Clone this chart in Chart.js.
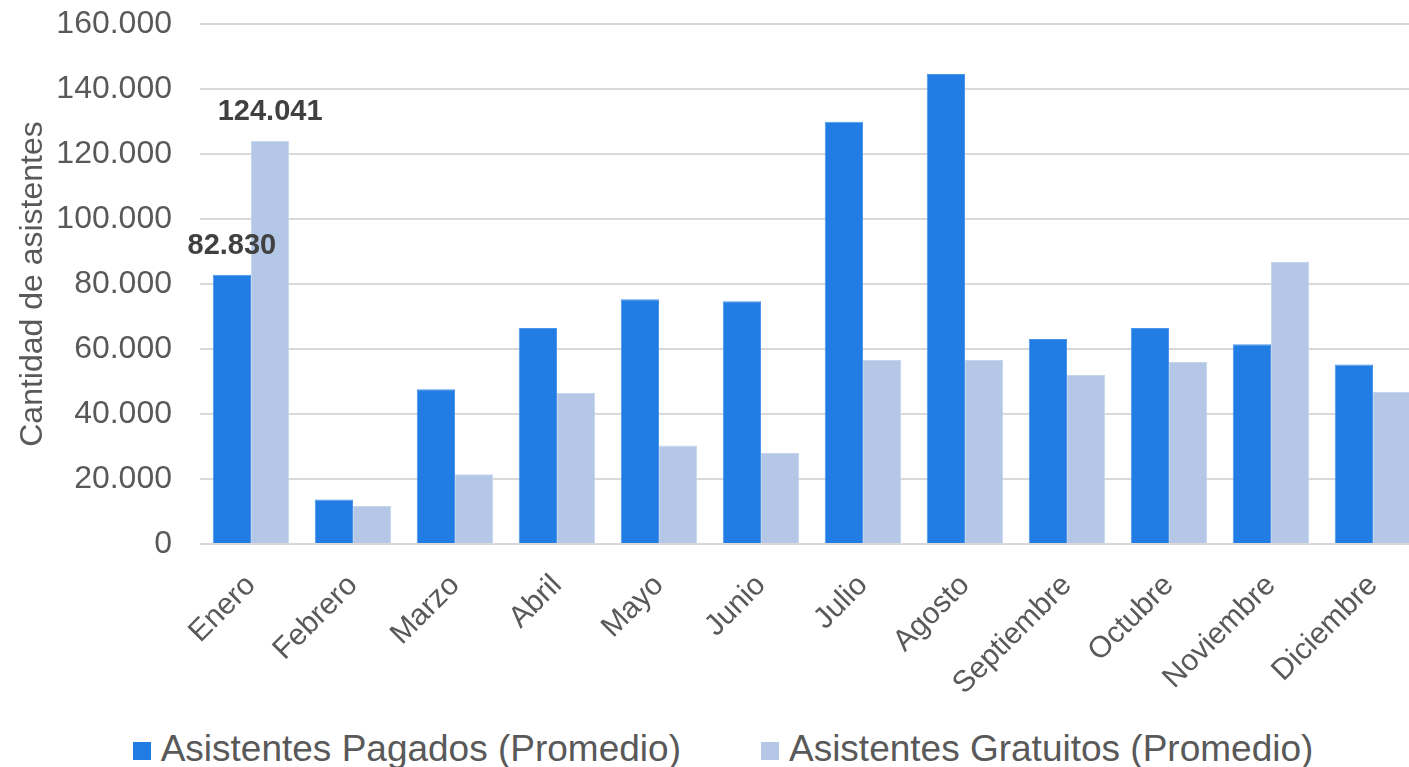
<!DOCTYPE html>
<html lang="es">
<head>
<meta charset="utf-8">
<title>Asistentes por mes</title>
<script src="https://cdn.jsdelivr.net/npm/chart.js@4.4.1/dist/chart.umd.min.js"></script>
<style>
  html, body { margin: 0; padding: 0; background: #fff; overflow: hidden; }
  canvas { display: block; }
  #leyenda {
    width: 1440px;
    margin-top: 26px;
    padding-left: 6px;
    box-sizing: border-box;
    display: flex;
    justify-content: center;
    gap: 80px;
    font: 37px/37px 'Liberation Sans', Arial, sans-serif;
    color: #595959;
    white-space: nowrap;
  }
  #leyenda .item { display: flex; align-items: center; }
  #leyenda .caja { width: 18px; height: 18px; margin-right: 10px; position: relative; top: 2px; }
</style>
</head>
<body>
<canvas id="asistentes" width="1440" height="704"></canvas>
<div id="leyenda"></div>
<script>
const meses = ['Enero', 'Febrero', 'Marzo', 'Abril', 'Mayo', 'Junio', 'Julio',
  'Agosto', 'Septiembre', 'Octubre', 'Noviembre', 'Diciembre'];
const pagados = [82830, 13700, 47600, 66500, 75300, 74700, 129900, 144600, 63100, 66500, 61500, 55200];
const gratuitos = [124041, 11700, 21500, 46500, 30300, 28000, 56600, 56600, 52000, 56000, 86800, 46800];
// which bars get a value written on top: [dataset, month]
const etiquetas = [[0, 0], [1, 0]];

const FONT = "'Liberation Sans', Arial, sans-serif";
const GRIS = '#595959';

function miles(v) {
  return String(v).replace(/\B(?=(\d{3})+(?!\d))/g, '.');
}

// writes the value above the selected bars
const valoresBarras = {
  id: 'valoresBarras',
  afterDatasetsDraw(chart) {
    const ctx = chart.ctx;
    ctx.save();
    ctx.font = 'bold 29px ' + FONT;
    ctx.fillStyle = '#404040';
    ctx.textAlign = 'center';
    ctx.textBaseline = 'middle';
    etiquetas.forEach(([ds, i]) => {
      const bar = chart.getDatasetMeta(ds).data[i];
      const valor = chart.data.datasets[ds].data[i];
      ctx.fillText(miles(valor), bar.x, bar.y - 29);
    });
    ctx.restore();
  }
};

// legend as html under the canvas, so the items can be spaced freely
const leyendaHtml = {
  id: 'leyendaHtml',
  afterUpdate(chart) {
    const cont = document.getElementById('leyenda');
    cont.innerHTML = '';
    chart.data.datasets.forEach(ds => {
      const item = document.createElement('div');
      item.className = 'item';
      const caja = document.createElement('span');
      caja.className = 'caja';
      caja.style.background = ds.backgroundColor;
      const txt = document.createElement('span');
      txt.textContent = ds.label;
      item.appendChild(caja);
      item.appendChild(txt);
      cont.appendChild(item);
    });
  }
};

new Chart(document.getElementById('asistentes'), {
  type: 'bar',
  data: {
    labels: meses,
    datasets: [{
      label: 'Asistentes Pagados (Promedio)',
      data: pagados,
      backgroundColor: '#217DE3',
      borderColor: '#4A95EB',
      borderWidth: 1
    }, {
      label: 'Asistentes Gratuitos (Promedio)',
      data: gratuitos,
      backgroundColor: '#B4C7E7',
      borderColor: '#C6D5EE',
      borderWidth: 1
    }]
  },
  options: {
    responsive: false,
    animation: false,
    categoryPercentage: 0.75,
    barPercentage: 1,
    layout: { padding: { top: 24, right: 16, left: 0, bottom: 0 } },
    plugins: {
      tooltip: { enabled: false },
      legend: { display: false }
    },
    scales: {
      x: {
        grid: { display: false },
        border: { display: false },
        ticks: {
          color: GRIS,
          font: { family: FONT, size: 30 },
          minRotation: 45,
          maxRotation: 45,
          padding: 16
        },
        afterFit(scale) { scale.height = 160; }
      },
      y: {
        min: 0,
        max: 160000,
        grid: { color: '#D9D9D9', lineWidth: 2, drawTicks: false },
        border: { display: false },
        ticks: {
          stepSize: 20000,
          color: GRIS,
          padding: 28,
          font: { family: FONT, size: 32 },
          callback: v => miles(v)
        },
        title: {
          display: true,
          text: 'Cantidad de asistentes',
          color: GRIS,
          font: { family: FONT, size: 32 },
          padding: { top: 14, bottom: 0 }
        },
        afterFit(scale) {
          scale.width = 200;
          scale.paddingTop = 0;
          scale.paddingBottom = 0;
        }
      }
    }
  },
  plugins: [valoresBarras, leyendaHtml]
});
</script>
</body>
</html>
